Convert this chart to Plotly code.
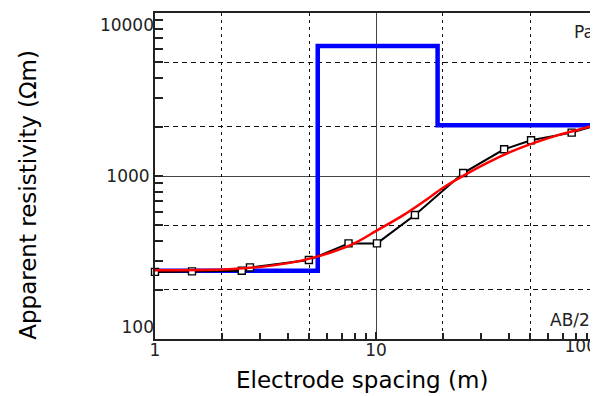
import plotly.graph_objects as go

# ---- data ----
# field sounding data (AB/2 in m, apparent resistivity in Ohm.m)
field_ab2 = [1.0, 1.47, 2.47, 2.69, 4.97, 7.51, 10.1, 15.0, 24.8, 38.0, 50.3, 76.8, 100.0]
field_rho = [258, 260, 262, 275, 305, 386, 386, 576, 1043, 1459, 1656, 1845, 2050]

# calculated model response (smooth red curve)
calc_ab2 = [1.0, 2.18, 3.09, 3.94, 4.86, 6.19, 7.89, 10.07, 13.3, 16.5, 20.2,
            25.7, 31.7, 40.4, 51.5, 65.6, 83.8, 101.0]
calc_rho = [264, 268, 278, 291, 308, 338, 383, 462, 575, 700, 850,
            1030, 1200, 1400, 1590, 1770, 1935, 2075]

# layered model (blue step curve)
layer_rho = [262, 6280, 2050]
layer_bottom = [5.45, 19.0]
model_start, model_end = 1.0, 300.0

# axis ticks
x_major = [1, 10, 100]
x_major_text = ["1", "10", ""]
x_edge_tick, x_edge_text = [100], ["100"]
y_major = [100, 1000, 10000]
y_major_text = ["", "1000", ""]
y_top_tick, y_top_text = [10000], ["10000"]
y_bottom_tick, y_bottom_text = [100], ["100"]
x_minor = [2, 3, 4, 5, 6, 7, 8, 9, 20, 30, 40, 50, 60, 70, 80, 90]
y_minor = [200, 300, 400, 500, 600, 700, 800, 900,
           2000, 3000, 4000, 5000, 6000, 7000, 8000, 9000]
x_dashed_grid = [2, 5, 20, 50]
y_dashed_grid = [200, 500, 2000, 5000]

model_x = [model_start] + layer_bottom + [model_end]
model_y = layer_rho + [layer_rho[-1]]

FONT = "DejaVu Sans"
TICKFONT = dict(family=FONT, size=17, color="#222")

fig = go.Figure()

# invisible helper traces that create the overlay axes (dashed grid, edge labels)
for xa, ya in [("x2", "y2"), ("x3", "y"), ("x", "y3"), ("x", "y4")]:
    fig.add_trace(go.Scatter(x=[10], y=[1000], xaxis=xa, yaxis=ya, mode="markers",
                             marker=dict(opacity=0), hoverinfo="skip", showlegend=False))

fig.add_trace(go.Scatter(x=model_x, y=model_y, mode="lines", line_shape="hv",
                         line=dict(color="#0000FF", width=4.5), showlegend=False))

fig.add_trace(go.Scatter(x=field_ab2, y=field_rho, mode="lines+markers",
                         line=dict(color="black", width=2),
                         marker=dict(symbol="square", size=7, color="white",
                                     line=dict(color="black", width=1.4)),
                         cliponaxis=False, showlegend=False))

fig.add_trace(go.Scatter(x=calc_ab2, y=calc_rho, mode="lines", line_shape="spline",
                         line=dict(color="#FF0000", width=2.5, smoothing=1.0),
                         showlegend=False))

xr = [0, 443 / 221]
yr = [2, 4]

label_axis = dict(automargin=False, ticks="", showgrid=False, showline=False,
                  zeroline=False, tickfont=TICKFONT, ticklabeloverflow="allow")

# the page body has an 8 px margin, so the figure is sized / offset to compensate
fig.update_layout(
    template="none",
    width=590, height=388,
    margin=dict(l=147, r=0, t=5, b=57, autoexpand=False),
    paper_bgcolor="white", plot_bgcolor="white",
    showlegend=False,
    xaxis=dict(type="log", range=xr, tickvals=x_major, ticktext=x_major_text,
               automargin=False, ticklabeloverflow="allow", ticklabelstandoff=-5,
               ticks="inside", ticklen=7, tickwidth=1.5, tickcolor="#222",
               showgrid=True, gridcolor="#444", gridwidth=1.4,
               showline=True, linecolor="#222", linewidth=2, mirror=True,
               tickfont=TICKFONT,
               minor=dict(tickvals=x_minor, ticks="inside", ticklen=6,
                          tickwidth=1.5, tickcolor="#222", showgrid=False),
               zeroline=False),
    yaxis=dict(type="log", range=yr, tickvals=y_major, ticktext=y_major_text,
               automargin=False, ticklabeloverflow="allow",
               ticks="inside", ticklen=8, tickwidth=1.5, tickcolor="#222",
               showgrid=True, gridcolor="#444", gridwidth=1.4,
               showline=True, linecolor="#222", linewidth=2,
               tickfont=TICKFONT,
               minor=dict(tickvals=y_minor, ticks="inside", ticklen=8,
                          tickwidth=1.5, tickcolor="#222", showgrid=False),
               zeroline=False),
    xaxis2=dict(type="log", range=xr, overlaying="x", anchor="y2", automargin=False,
                tickvals=x_dashed_grid, showticklabels=False, ticks="",
                showgrid=True, gridcolor="#111", gridwidth=1.4, griddash="3px,4px",
                showline=False, zeroline=False),
    yaxis2=dict(type="log", range=yr, overlaying="y", anchor="x2", automargin=False,
                tickvals=y_dashed_grid, showticklabels=False, ticks="",
                showgrid=True, gridcolor="#111", gridwidth=1.4, griddash="5px,4px",
                showline=False, zeroline=False),
    xaxis3=dict(type="log", range=xr, overlaying="x", anchor="y", side="bottom",
                tickvals=x_edge_tick, ticktext=x_edge_text,
                ticklabelposition="outside left", ticklabelstandoff=-5, **label_axis),
    yaxis3=dict(type="log", range=yr, overlaying="y", anchor="x", side="left",
                tickvals=y_top_tick, ticktext=y_top_text,
                ticklabelposition="outside bottom", **label_axis),
    yaxis4=dict(type="log", range=yr, overlaying="y", anchor="x", side="left",
                tickvals=y_bottom_tick, ticktext=y_bottom_text,
                ticklabelposition="outside top", **label_axis),
    annotations=[
        dict(text="Electrode spacing (m)", xref="paper", yref="paper",
             x=0.467, y=-0.126, xanchor="center", yanchor="middle",
             showarrow=False, font=dict(family=FONT, size=23, color="black")),
        dict(text="Apparent resistivity (Ωm)", xref="paper", yref="paper",
             x=-0.287, y=0.442, xanchor="center", yanchor="middle", textangle=-90,
             showarrow=False, font=dict(family=FONT, size=23, color="black")),
        dict(text="Pa", xref="paper", yref="paper", x=0.941, y=0.942,
             xanchor="left", yanchor="middle", showarrow=False,
             font=TICKFONT),
        dict(text="AB/2", xref="paper", yref="paper", x=0.887, y=0.058,
             xanchor="left", yanchor="middle", showarrow=False,
             font=TICKFONT),
    ],
)

fig.write_html("out.html")
